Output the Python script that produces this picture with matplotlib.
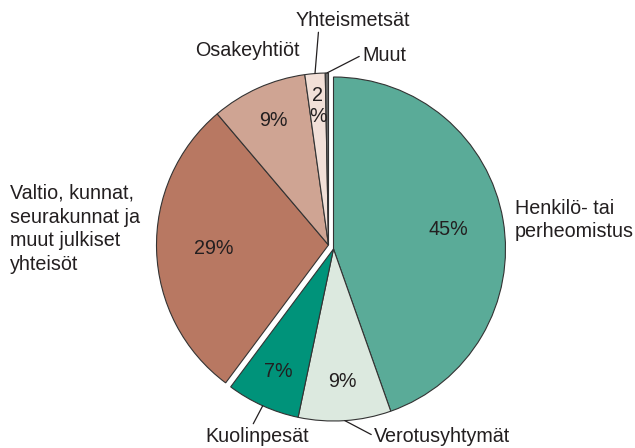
import numpy as np
import matplotlib
matplotlib.use('Agg')
import matplotlib.pyplot as plt

plt.rcParams['font.family'] = ['Liberation Sans', 'DejaVu Sans']

# ownership shares (%), clockwise from 12 o'clock
right_names = ['Henkilö- tai perheomistus', 'Verotusyhtymät', 'Kuolinpesät']
right_vals = [44.6, 8.7, 6.9]
right_cols = ['#5aab98', '#dce9df', '#00937a']

left_names = ['Valtio, kunnat, seurakunnat ja muut julkiset yhteisöt',
              'Osakeyhtiöt', 'Yhteismetsät', 'Muut']
left_vals = [28.6, 9.0, 1.9, 0.3]
left_cols = ['#b87862', '#cfa493', '#f2e0d8', '#6b6b6b']

pct_labels = ['45%', '9%', '7%', '29%', '9%', '2\n%', '']
pct_dist = [0.68, 0.77, 0.78, 0.67, 0.79, 0.81, 0.0]

W, H = 635, 448
R = 172
c_right = (333.5, H - 249)
c_left = (328.5, H - 245)
txtcol = '#231f20'
fs = 14.2
edge = dict(edgecolor='#333333', linewidth=0.8)

fig = plt.figure(figsize=(W/100, H/100), dpi=100)
ax = fig.add_axes([0, 0, 1, 1])

start_left = 90 - sum(right_vals) / 100 * 360
wr, _ = ax.pie(np.array(right_vals)/100, normalize=False, startangle=90,
               counterclock=False, center=c_right, radius=R,
               colors=right_cols, wedgeprops=edge)
wl, _ = ax.pie(np.array(left_vals)/100, normalize=False, startangle=start_left,
               counterclock=False, center=c_left, radius=R,
               colors=left_cols, wedgeprops=edge)
wedges = list(wr) + list(wl)

def edge_point(w, frac):
    ang = np.deg2rad((w.theta1 + w.theta2) / 2)
    cx, cy = w.center
    return cx + frac * w.r * np.cos(ang), cy + frac * w.r * np.sin(ang)

for w, lab, d in zip(wedges, pct_labels, pct_dist):
    if lab:
        x, y = edge_point(w, d)
        ax.text(x, y, lab, ha='center', va='center', fontsize=fs,
                color=txtcol, linespacing=1.1)

# outer labels
ax.text(515, H - 220, 'Henkilö- tai\nperheomistus', ha='left', va='center',
        fontsize=fs, color=txtcol, linespacing=1.25)
ax.text(10, H - 229, 'Valtio, kunnat,\nseurakunnat ja\nmuut julkiset\nyhteisöt',
        ha='left', va='center', fontsize=fs, color=txtcol, linespacing=1.33)
ax.text(247, H - 50, 'Osakeyhtiöt', ha='center', va='center',
        fontsize=fs, color=txtcol)

lead = dict(arrowstyle='-', color='#231f20', lw=0.9, shrinkA=0, shrinkB=0)
ax.annotate('Verotusyhtymät', xy=edge_point(wedges[1], 1.0), xytext=(374, H - 436),
            ha='left', va='center', fontsize=fs, color=txtcol,
            arrowprops=dict(lead, relpos=(0, 0.5)))
ax.annotate('Kuolinpesät', xy=edge_point(wedges[2], 1.0), xytext=(257, H - 436),
            ha='center', va='center', fontsize=fs, color=txtcol,
            arrowprops=dict(lead, relpos=(0.45, 1.0)))
ax.annotate('Yhteismetsät', xy=edge_point(wedges[5], 1.0), xytext=(353, H - 20),
            ha='center', va='center', fontsize=fs, color=txtcol,
            arrowprops=dict(lead, relpos=(0.2, 0.0)))
ax.annotate('Muut', xy=edge_point(wedges[6], 1.0), xytext=(362, H - 55),
            ha='left', va='center', fontsize=fs, color=txtcol,
            arrowprops=dict(lead, relpos=(0.0, 0.5)))

ax.set_xlim(0, W)
ax.set_ylim(0, H)
ax.set_aspect('equal')
ax.axis('off')

fig.savefig('out.png', dpi=100, facecolor='white')
